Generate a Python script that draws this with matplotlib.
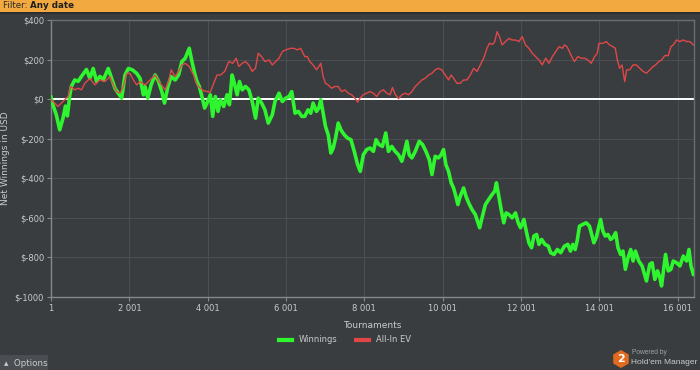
import matplotlib
matplotlib.use("Agg")
import matplotlib.pyplot as plt
from matplotlib.patches import Rectangle, RegularPolygon
from matplotlib.ticker import FixedLocator, FixedFormatter

# ---------------- data ----------------
win_t = [1, 52, 138, 223, 309, 369, 420, 480, 523, 608, 694, 779, 907, 993, 1078, 1164, 1249, 1335,
         1463, 1548, 1634, 1719, 1805, 1890, 1976, 2079, 2190, 2275, 2361, 2404, 2472, 2557, 2660,
         2746, 2831, 2899, 2985, 3070,
         3172, 3258, 3343, 3429, 3531, 3600, 3668, 3728, 3788, 3856, 3924, 3984, 4070, 4130, 4198,
         4266, 4326, 4412, 4497, 4557, 4626, 4694, 4754, 4814, 4882, 4968, 5053, 5139, 5224, 5292,
         5378, 5463, 5549, 5652, 5720, 5823, 5908, 5994, 6079, 6147, 6233, 6318, 6404,
         6480, 6566, 6634, 6694, 6779, 6839, 6890, 6950, 7010, 7079, 7147, 7207, 7267, 7335, 7403,
         7489, 7574, 7660, 7745, 7831, 7899, 7976, 8062, 8147, 8233, 8301, 8378, 8464, 8549, 8618,
         8703, 8789, 8874, 8960, 9028, 9088, 9148, 9216, 9302, 9404, 9490, 9575, 9661, 9729,
         9810, 9896, 9964, 10024, 10084, 10152, 10220, 10280, 10340, 10391, 10451, 10537, 10597,
         10665, 10751, 10836, 10904, 10947, 11007, 11093, 11178, 11264, 11332, 11375, 11435, 11503,
         11563, 11623, 11691, 11777, 11862, 11930, 11990, 12076, 12136, 12204, 12272, 12332, 12401,
         12461, 12529, 12614, 12700, 12760, 12845, 12931, 13016,
         13111, 13197, 13265, 13325, 13385, 13436, 13496, 13581, 13667, 13752, 13795, 13863, 13923,
         13983, 14034, 14094, 14154, 14223, 14291, 14351, 14419, 14479, 14547, 14607, 14667, 14736,
         14804, 14864, 14924, 15009, 15095, 15206, 15291, 15351, 15420, 15488, 15548, 15591, 15633,
         15693, 15762, 15830, 15890, 15975, 16061, 16146, 16232, 16292, 16343, 16403]
win_v = [10, -30, -80, -155, -95, -35, -85, 20, 65, 97, 90, 115, 150, 105, 155, 90, 115, 97,
         155, 105, 55, 30, 5, 122, 155, 148, 130, 105, 22, 63, 5, 72, 122,
         90, 38, -20, 63, 114,
         97, 122, 190, 207, 257, 190, 131, 89, 64, 13, -45, -20, 22, -87, 13,
         -62, -3, -37, 22, -28, 122, 72, 22, 89, 47, 64, 47, -12, -96, 5,
         -20, -54, -121, -79, -12, 30, -12, 5, 13, 38, -71, -62, -87,
         -87, -54, -71, -20, -62, -45, -3, -71, -138, -180, -272, -247, -197, -121, -155,
         -180, -197, -205, -264, -331, -365, -281, -255, -247, -264, -205, -230, -239, -171, -264,
         -239, -264, -281, -314, -264, -213, -281, -297, -264, -213, -230, -264, -306, -381,
         -289, -297, -281, -255, -331, -365, -423, -449, -491, -533, -491, -449, -491,
         -524, -558, -583, -625, -650, -600, -533, -507, -482, -465, -423, -491, -566,
         -625, -575, -583, -600, -575, -625, -650, -608, -667, -726, -751, -692, -684,
         -734, -709, -734, -743, -776, -785, -760, -776,
         -743, -734, -768, -734, -760, -717, -642, -633, -625, -642, -675, -726, -700,
         -650, -608, -667, -692, -684, -709, -700, -675, -751, -785, -768, -860, -801,
         -760, -818, -768, -818, -843, -919, -835, -827, -911, -868, -902, -944, -877,
         -785, -868, -860, -818, -827, -843, -793, -818, -760, -843, -885]

ev_t = [1, 95, 180, 266, 352, 437, 505, 608, 694, 779, 864, 993, 1121, 1249, 1378, 1506, 1591,
        1677, 1762, 1848, 1933, 2019, 2104, 2190, 2275, 2404, 2532, 2660, 2788, 2916, 3002, 3070,
        3172, 3258, 3343, 3429, 3531, 3642, 3728, 3813, 3899, 3984, 4070, 4155, 4241, 4326, 4437,
        4540, 4643, 4728, 4797, 4882, 4968, 5053, 5139, 5224, 5292, 5378, 5463, 5566, 5652, 5737,
        5823, 5908, 5994, 6122, 6207, 6293, 6378,
        6480, 6548, 6608, 6694, 6779, 6839, 6890, 6950, 7010, 7079, 7164, 7250, 7335, 7421, 7506,
        7592, 7677, 7763, 7831, 7891, 7976, 8062, 8147, 8233, 8318, 8404, 8489, 8575, 8660, 8720,
        8789, 8874, 8960, 9045, 9131, 9216, 9302, 9387, 9473, 9558, 9644, 9729,
        9810, 9896, 9981, 10067, 10152, 10220, 10280, 10366, 10451, 10537, 10622, 10708, 10793,
        10879, 10964, 11050, 11135, 11195, 11281, 11332, 11392, 11452, 11520, 11606, 11691, 11777,
        11862, 11948, 12033, 12119, 12204, 12290, 12375, 12461, 12546, 12632, 12717, 12803, 12888,
        12974, 13059,
        13111, 13179, 13239, 13299, 13368, 13453, 13539, 13624, 13710, 13795, 13881, 13949, 13992,
        14094, 14180, 14265, 14351, 14411, 14462, 14522, 14582, 14650, 14701, 14778, 14864, 14949,
        15035, 15120, 15206, 15291, 15377, 15437, 15522, 15591, 15676, 15762, 15830, 15890, 15975,
        16061, 16146, 16232, 16317, 16403]
ev_v = [-3, -20, -37, -20, -3, 13, 64, 47, 55, 47, 80, 105, 72, 97, 89, 114, 72,
        38, 30, 64, 130, 130, 97, 72, 89, 72, 97, 122, 80, 47, 89, 148,
        114, 140, 173, 181, 165, 122, 72, 55, 42, 39, 35, 80, 122, 122, 140,
        190, 181, 207, 165, 181, 190, 173, 140, 157, 232, 215, 190, 198, 173, 190,
        207, 240, 249, 257, 257, 249, 257,
        215, 215, 190, 173, 148, 165, 181, 114, 80, 72, 55, 64, 64, 38, 47,
        30, 22, 5, -15, 5, 22, 30, 38, 30, 13, 38, 47, 30, 22, 59,
        25, 2, 22, 30, 22, 38, 64, 80, 97, 106, 122, 131,
        148, 156, 148, 122, 97, 122, 106, 80, 80, 97, 97, 122, 156,
        140, 173, 207, 257, 282, 277, 291, 341, 316, 274, 291, 307, 299,
        299, 291, 316, 274, 257, 232, 215, 198, 173, 207, 181, 215, 240,
        265, 257,
        274, 265, 240, 215, 190, 215, 207, 207, 198, 181, 215, 232, 282,
        282, 291, 274, 265, 257, 198, 156, 173, 89, 148, 148, 173, 173,
        156, 140, 131, 148, 165, 173, 190, 198, 220, 220, 265, 274, 299,
        291, 299, 291, 291, 274]

x_ticks = [1, 2001, 4001, 6001, 8001, 10001, 12001, 14001, 16001]
x_tick_labels = ["1", "2 001", "4 001", "6 001", "8 001", "10 001", "12 001", "14 001", "16 001"]
y_ticks = [400, 200, 0, -200, -400, -600, -800, -1000]
y_tick_labels = ["$400", "$200", "$0", "$-200", "$-400", "$-600", "$-800", "$-1000"]
series_names = ["Winnings", "All-In EV"]

# ---------------- styling ----------------
BG = "#3a3d40"
GRID = "#4b4e52"
SPINE = "#85888c"
TXT = "#c9cacb"
GREEN = "#2ef52e"
RED = "#e04848"
W, H = 700, 370

fig = plt.figure(figsize=(7, 3.7), dpi=100, facecolor=BG)
ax = fig.add_axes([51 / W, 1 - 297 / H, (694 - 51) / W, (297 - 20) / H])
ax.set_facecolor(BG)

ax.set_xlim(1, 16420)
ax.set_ylim(-1000, 400)
ax.xaxis.set_major_locator(FixedLocator(x_ticks))
ax.xaxis.set_major_formatter(FixedFormatter(x_tick_labels))
ax.yaxis.set_major_locator(FixedLocator(y_ticks))
ax.yaxis.set_major_formatter(FixedFormatter(y_tick_labels))
ax.grid(True, color=GRID, linewidth=0.8)
ax.set_axisbelow(True)
ax.tick_params(labelsize=6, length=3, width=0.8, pad=2)
ax.tick_params(axis="x", colors=SPINE, labelcolor=TXT)
ax.tick_params(axis="y", colors=SPINE, labelcolor=TXT)
for s in ax.spines.values():
    s.set_color(SPINE)
    s.set_linewidth(1.0)
for s in ("top", "right"):
    ax.spines[s].set_color("#6a6d71")

ax.axhline(0, color="white", linewidth=1.4, zorder=2)
l1, = ax.plot(win_t, win_v, color=GREEN, linewidth=2.6, zorder=3, label=series_names[0])
l2, = ax.plot(ev_t, ev_v, color=RED, linewidth=1.0, zorder=4, label=series_names[1])

ax.set_xlabel("Tournaments", color=TXT, fontsize=6.5, labelpad=6)
ax.set_ylabel("Net Winnings in USD", color=TXT, fontsize=6.5)
ax.yaxis.set_label_coords(-41 / 643, 0.5)

leg = fig.legend(handles=[l1, l2], loc="center", bbox_to_anchor=(0.493, 1 - 340 / H), ncol=2,
                 frameon=False, fontsize=6, handlelength=1.6, columnspacing=2.2,
                 handletextpad=0.8, labelcolor=TXT)
for h in leg.legend_handles:
    h.set_linewidth(3)

# top filter bar
fig.patches.append(Rectangle((0, 1 - 12 / H), 1, 12 / H, transform=fig.transFigure,
                             facecolor="#f2aa40", edgecolor="none", zorder=0))
fig.patches.append(Rectangle((0, 1 - 13.5 / H), 1, 1.5 / H, transform=fig.transFigure,
                             facecolor="#2c2e30", edgecolor="none", zorder=0))
t1 = fig.text(3 / W, 1 - 6 / H, "Filter: ", color="#2a2a2a", fontsize=6.3, va="center", ha="left")
fig.canvas.draw()
bb = t1.get_window_extent()
fig.text(bb.x1 / W, 1 - 6 / H, "Any date", color="#1e1e1e", fontsize=6.3, va="center",
         ha="left", fontweight="bold")

# bottom-left options box
fig.patches.append(Rectangle((0, 0), 48 / W, 15 / H, transform=fig.transFigure,
                             facecolor="#4a4d51", edgecolor="none", zorder=0))
fig.text(4 / W, 7 / H, "\u25b4  Options", color=TXT, fontsize=6.3, va="center", ha="left")

# bottom-right logo
lax = fig.add_axes([612 / W, 1 - 368 / H, 18 / W, 18 / H])
lax.set_xlim(0, 1)
lax.set_ylim(0, 1)
lax.set_aspect("equal")
lax.axis("off")
lax.add_patch(RegularPolygon((0.5, 0.5), 6, radius=0.5, orientation=0, facecolor="#e06a1e",
                             edgecolor="none"))
lax.text(0.5, 0.5, "2", color="white", fontsize=8, fontweight="bold", ha="center", va="center")
fig.text(632 / W, 1 - 353 / H, "Powered by", color="#a0a2a4", fontsize=4.8, va="center",
         ha="left", family="Liberation Sans")
fig.text(697 / W, 1 - 362 / H, "Hold'em Manager", color=TXT, fontsize=6.0, va="center",
         ha="right", family="Liberation Sans")

fig.savefig("out.png", dpi=100, facecolor=BG)
